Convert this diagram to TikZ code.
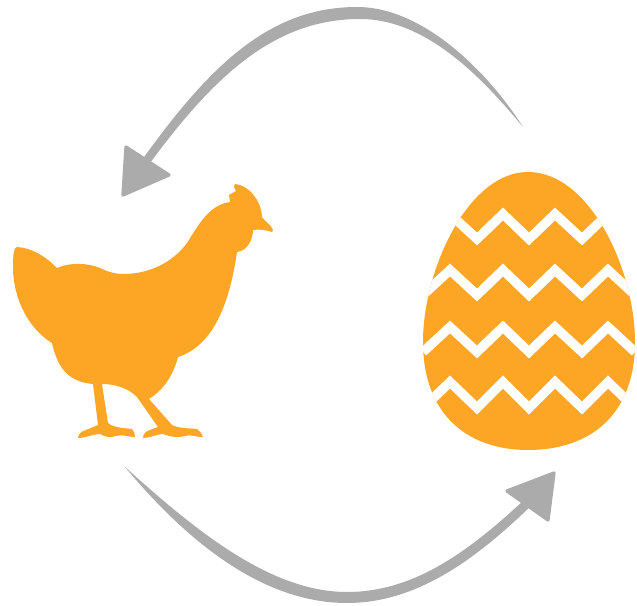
\documentclass[tikz,border=0pt]{standalone}
\definecolor{hen}{HTML}{FDA525}
\definecolor{arrowgrey}{HTML}{ABABAB}
\tikzset{
  henfill/.style={fill=hen,draw=none},
  greyfill/.style={fill=arrowgrey,draw=none},
  headfill/.style={fill=arrowgrey,draw=arrowgrey,line width=2.5pt,line join=round},
  zigzag/.style={draw=white,line width=7pt,line join=miter}
}
\begin{document}
\begin{tikzpicture}[x=0.75pt,y=-0.75pt]
\useasboundingbox (0,0) rectangle (637,606);
% top arrow
\fill[greyfill] (523,127) .. controls (490,75) and (425,7) .. (357,7)
  .. controls (270,7) and (210,65) .. (142,160) -- (150,163)
  .. controls (215,75) and (275,19) .. (360,19)
  .. controls (425,19) and (480,75) .. (523,127) -- cycle;
\filldraw[headfill] (126,147) -- (123,195) -- (169,175) -- cycle;
% bottom arrow
\fill[greyfill] (125,467) .. controls (190,545) and (265,603) .. (347,603)
  .. controls (420,603) and (480,555) .. (532,505) -- (523,501)
  .. controls (470,550) and (415,592) .. (347,592)
  .. controls (270,592) and (195,530) .. (125,467) -- cycle;
\filldraw[headfill] (507,491) -- (548,520) -- (554,473) -- cycle;
% hen
\fill[henfill]
  (17,247) .. controls (32,248) and (45,256) .. (57,268)
  .. controls (70,262) and (88,263) .. (100,268)
  .. controls (110,273) and (118,274) .. (123,274)
  .. controls (150,274) and (173,262) .. (187,243)
  .. controls (200,222) and (210,205) .. (230,202)
  -- (229,195) -- (236,191) -- (234,187) -- (235,184)
  .. controls (252,186) and (262,205) .. (262,217)
  .. controls (265,222) and (271,224) .. (273,230)
  -- (272,232) .. controls (266,230) and (259,229) .. (253,230)
  .. controls (253,240) and (247,251) .. (237,252)
  .. controls (230,300) and (215,345) .. (178,357)
  .. controls (172,380) and (160,392) .. (149,399)
  -- (172,425)
  .. controls (180,429) and (190,428) .. (197,429)
  .. controls (200,431) and (202,434) .. (203,437)
  .. controls (195,437) and (190,434) .. (185,436)
  .. controls (178,438) and (170,437) .. (163,434)
  .. controls (157,434) and (150,438) .. (143,438)
  .. controls (143,434) and (146,431) .. (150,430)
  -- (158,427) -- (137,397)
  .. controls (128,388) and (115,384) .. (102,384)
  -- (108,423)
  .. controls (114,428) and (124,428) .. (132,429)
  .. controls (134,431) and (135,434) .. (135,437)
  .. controls (128,437) and (122,434) .. (116,436)
  .. controls (110,438) and (105,437) .. (100,434)
  .. controls (93,434) and (86,438) .. (78,438)
  .. controls (78,434) and (82,431) .. (86,430)
  -- (98,425) -- (93,384)
  .. controls (70,382) and (58,370) .. (52,343)
  .. controls (30,330) and (13,300) .. (13,267)
  .. controls (13,255) and (14,247) .. (17,247)
  -- cycle;
% egg
\begin{scope}
\clip (528,172) .. controls (590,172) and (635,270) .. (635,342)
  .. controls (635,415) and (590,450) .. (528,450)
  .. controls (468,450) and (423,415) .. (423,342)
  .. controls (423,270) and (468,172) .. (528,172) -- cycle;
\fill[henfill] (415,165) rectangle (637,455);
\foreach \p/\l in {214/239,270/295,327/352,382/408}{
  \draw[zigzag] (423,\l) -- (450,\p) -- (477,\l) -- (503,\p) -- (529,\l) -- (555,\p) -- (582,\l) -- (608,\p) -- (635,\l);
}
\end{scope}
\end{tikzpicture}
\end{document}
